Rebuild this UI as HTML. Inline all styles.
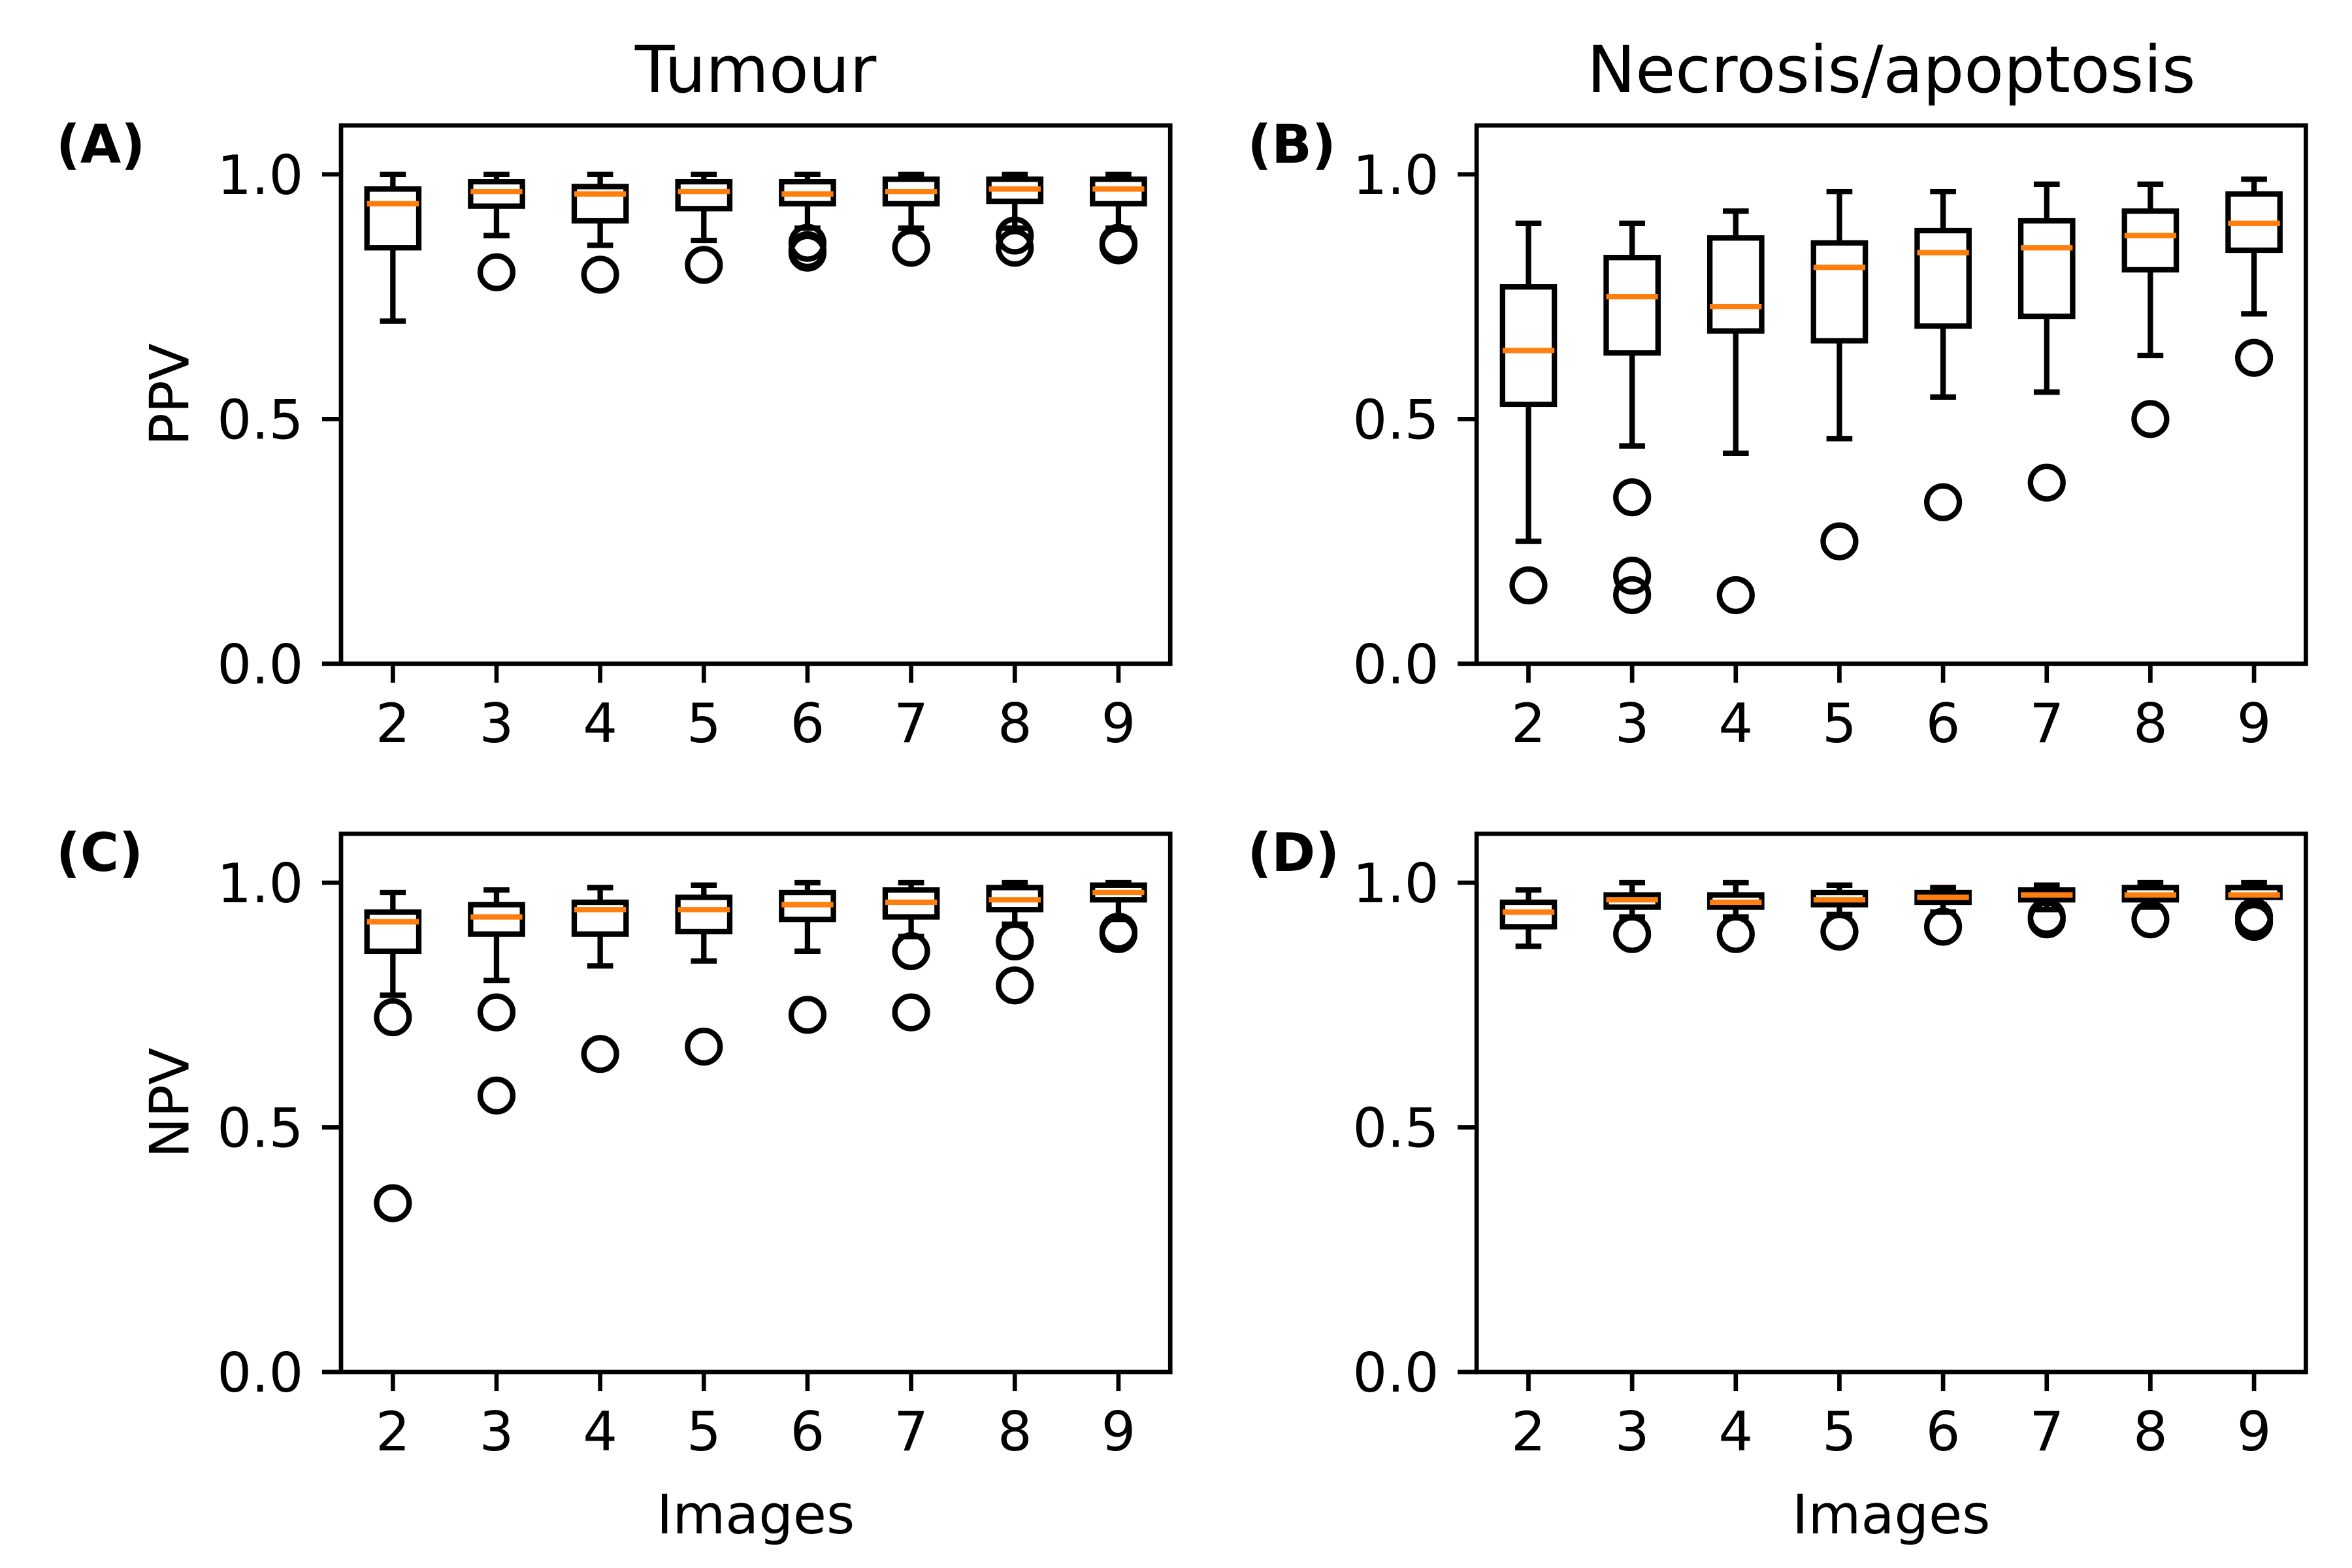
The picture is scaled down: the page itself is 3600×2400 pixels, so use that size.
<!DOCTYPE html>
<html><head><meta charset="utf-8"><style>
html,body{margin:0;padding:0;background:#fff;}
svg{display:block;font-family:"DejaVu Sans","Liberation Sans",sans-serif;}
</style></head><body>
<svg id="fig" width="3600" height="2400" viewBox="0 0 1560 1040" xmlns="http://www.w3.org/2000/svg"></svg>
<script>
const categories = [2,3,4,5,6,7,8,9];
const yTicks = [0.0,0.5,1.0];
const yTickLabels = ["0.0","0.5","1.0"];
// each stat: [whiskerLow, q1, median, q3, whiskerHigh]
const statsA = [[0.70,0.85,0.94,0.97,1.0],[0.875,0.935,0.965,0.985,1.0],[0.855,0.905,0.96,0.975,1.0],[0.865,0.93,0.965,0.985,1.0],[0.89,0.94,0.96,0.985,1.0],[0.89,0.94,0.965,0.99,1.0],[0.89,0.945,0.97,0.99,1.0],[0.89,0.94,0.97,0.99,1.0]];
const outliersA = [[],[0.80],[0.795],[0.815],[0.86,0.845,0.84],[0.85],[0.875,0.85],[0.86,0.855]];
const statsB = [[0.25,0.53,0.64,0.77,0.90],[0.445,0.635,0.75,0.83,0.90],[0.43,0.68,0.73,0.87,0.925],[0.46,0.66,0.81,0.86,0.965],[0.545,0.69,0.84,0.885,0.965],[0.555,0.71,0.85,0.905,0.98],[0.63,0.805,0.875,0.925,0.98],[0.715,0.845,0.90,0.96,0.99]];
const outliersB = [[0.16],[0.34,0.18,0.14],[0.14],[0.25],[0.33],[0.37],[0.50],[0.625]];
const statsC = [[0.77,0.86,0.92,0.94,0.98],[0.80,0.895,0.93,0.955,0.985],[0.83,0.895,0.945,0.96,0.99],[0.84,0.90,0.945,0.97,0.995],[0.86,0.925,0.955,0.98,1.0],[0.89,0.93,0.96,0.985,1.0],[0.915,0.945,0.965,0.99,1.0],[0.925,0.965,0.98,0.995,1.0]];
const outliersC = [[0.725,0.345],[0.735,0.565],[0.65],[0.665],[0.73],[0.86,0.735],[0.88,0.79],[0.90,0.895]];
const statsD = [[0.87,0.91,0.94,0.96,0.985],[0.93,0.95,0.965,0.975,1.0],[0.93,0.95,0.96,0.975,1.0],[0.935,0.955,0.965,0.98,0.995],[0.94,0.96,0.97,0.98,0.99],[0.945,0.965,0.975,0.985,0.995],[0.95,0.965,0.975,0.99,1.0],[0.955,0.97,0.975,0.99,1.0]];
const outliersD = [[],[0.895],[0.895],[0.90],[0.91],[0.93,0.925],[0.925],[0.93,0.92]];

const NS="http://www.w3.org/2000/svg";
const svg=document.getElementById('fig');
function mk(tag,attrs,parent){const e=document.createElementNS(NS,tag);for(const k in attrs)e.setAttribute(k,attrs[k]);(parent||svg).appendChild(e);return e;}

const panels=[
 {id:'a',letter:'(A)',left:226.2,top:83.2,title:'Tumour',ylabel:'PPV',stats:statsA,out:outliersA,xlabel:false},
 {id:'b',letter:'(B)',left:979.4,top:83.2,title:'Necrosis/apoptosis',ylabel:null,stats:statsB,out:outliersB,xlabel:false},
 {id:'c',letter:'(C)',left:226.2,top:553,title:null,ylabel:'NPV',stats:statsC,out:outliersC,xlabel:true},
 {id:'d',letter:'(D)',left:979.4,top:553,title:null,ylabel:null,stats:statsD,out:outliersD,xlabel:true}
];
const W=550,H=357,LW=3.6,AW=2.9,TL=12.6;
panels.forEach(p=>{
  const g=mk('g',{});
  
  
  const xs=v=>p.left+(v-1.5)/8*W;
  const ys=v=>p.top+H-(v/1.1)*H;
  yTicks.forEach((t,i)=>{
    const tk=mk('line',{x1:p.left-TL,x2:p.left,y1:ys(t),y2:ys(t),stroke:'#000','stroke-width':AW},g);
    
    
    const tl=mk('text',{x:p.left-25,y:ys(t)+13,'text-anchor':'end','font-size':36},g);
    tl.textContent=yTickLabels[i];
    
    
  });
  categories.forEach(c=>{
    const tk=mk('line',{x1:xs(c),x2:xs(c),y1:p.top+H,y2:p.top+H+TL,stroke:'#000','stroke-width':AW},g);
    
    
    const tl=mk('text',{x:xs(c),y:p.top+H+52,'text-anchor':'middle','font-size':36},g);
    tl.textContent=String(c);
    
    
  });
  categories.forEach((c,i)=>{
    const s=p.stats[i];const x=xs(c);const hw=W/32,cw=W/64;
    const bg=mk('g',{stroke:'#000','stroke-width':LW,fill:'none'},g);
    
    
    mk('line',{x1:x,x2:x,y1:ys(s[0]),y2:ys(s[1])},bg);
    mk('line',{x1:x,x2:x,y1:ys(s[3]),y2:ys(s[4])},bg);
    mk('line',{x1:x-cw,x2:x+cw,y1:ys(s[0]),y2:ys(s[0])},bg);
    mk('line',{x1:x-cw,x2:x+cw,y1:ys(s[4]),y2:ys(s[4])},bg);
    mk('rect',{x:x-hw,y:ys(s[3]),width:2*hw,height:ys(s[1])-ys(s[3])},bg);
    const med=mk('line',{x1:x-hw,x2:x+hw,y1:ys(s[2]),y2:ys(s[2]),stroke:'#ff7f0e','stroke-width':LW},g);
    
    
    p.out[i].forEach(o=>{
      const ci=mk('circle',{cx:x,cy:ys(o),r:10.8,fill:'none',stroke:'#000','stroke-width':LW},g);
      
      
    });
  });
  const fr=mk('rect',{x:p.left,y:p.top,width:W,height:H,fill:'none',stroke:'#000','stroke-width':AW},g);
  
  
  const lx=(p.id==='a'||p.id==='c')?p.left-189:p.left-152;
  const lt=mk('text',{x:lx,y:p.top+24.6,'font-size':35,'font-weight':'bold'},g);
  lt.textContent=p.letter;
  
  
  if(p.title){const t=mk('text',{x:p.left+W/2,y:p.top-22,'text-anchor':'middle','font-size':43},g);t.textContent=p.title;
    
    }
  if(p.ylabel){const cy=p.top+H*0.5;const t=mk('text',{x:0,y:0,'text-anchor':'middle','font-size':36,transform:'translate(125,'+cy+') rotate(-90)'},g);t.textContent=p.ylabel;
    
    }
  if(p.xlabel){const t=mk('text',{x:p.left+W/2,y:p.top+H+107,'text-anchor':'middle','font-size':36},g);t.textContent='Images';
    
    }
});
</script>
</body></html>
